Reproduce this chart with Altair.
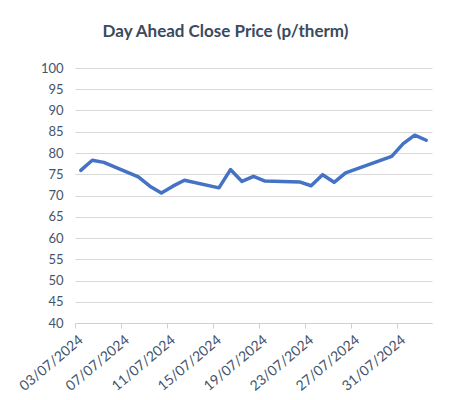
import altair as alt
import pandas as pd

dates = ["2024-07-03", "2024-07-04", "2024-07-05", "2024-07-08", "2024-07-09",
         "2024-07-10", "2024-07-11", "2024-07-12", "2024-07-15", "2024-07-16",
         "2024-07-17", "2024-07-18", "2024-07-19", "2024-07-22", "2024-07-23",
         "2024-07-24", "2024-07-25", "2024-07-26", "2024-07-30", "2024-07-31",
         "2024-08-01", "2024-08-02"]
prices = [75.9, 78.3, 77.8, 74.4, 72.2, 70.6, 72.2, 73.6, 71.8, 76.1,
          73.3, 74.5, 73.4, 73.2, 72.3, 74.9, 73.1, 75.3, 79.2, 82.2,
          84.2, 83.0]
tick_days = [(7, 3), (7, 7), (7, 11), (7, 15), (7, 19), (7, 23), (7, 27), (7, 31)]
y_ticks = list(range(40, 101, 5))

df = pd.DataFrame({"date": pd.to_datetime(dates, utc=True) + pd.Timedelta(hours=12),
                   "price": prices})
df["date"] = df["date"].dt.strftime("%Y-%m-%dT%H:%M:%SZ")

FONT = "Lato"
LABEL = "#44546A"

chart = alt.Chart(df).mark_line(color="#4472C4", strokeWidth=3.5, strokeJoin="round", strokeCap="round").encode(
    x=alt.X("date:T",
            scale=alt.Scale(type="utc",
                            domain=[alt.DateTime(year=2024, month=7, date=3, utc=True),
                                    alt.DateTime(year=2024, month=8, date=3, utc=True)]),
            axis=alt.Axis(values=[alt.DateTime(year=2024, month=m, date=d, utc=True) for m, d in tick_days],
                          labelExpr="utcFormat(datum.value, '%d/%m/%Y')", labelAngle=-40, labelAlign="right",
                          labelBaseline="middle", labelFont=FONT, labelFontSize=14, labelColor=LABEL,
                          labelPadding=10, labelOffset=6, grid=False, domainColor="#D0D0D0",
                          tickColor="#D0D0D0", tickSize=5, title=None, labelOverlap=False)),
    y=alt.Y("price:Q",
            scale=alt.Scale(domain=[40, 100], nice=False, zero=False),
            axis=alt.Axis(values=y_ticks, labelFont=FONT, labelFontSize=13, labelColor=LABEL,
                          labelPadding=12, domain=False, ticks=False, gridColor="#D9D9D9",
                          gridWidth=1, title=None)),
).properties(
    width=357, height=255,
    title=alt.TitleParams("Day Ahead Close Price (p/therm)", font=FONT, fontSize=17,
                          fontWeight="bold", color="#3B4A5E", anchor="middle", dx=-28, offset=21),
    autosize=alt.AutoSizeParams(type="none"),
    padding={"left": 67, "top": 60, "right": 10, "bottom": 76},
).configure_view(stroke=None)

chart.save("out.html", embed_options={"renderer": "svg", "actions": False})
